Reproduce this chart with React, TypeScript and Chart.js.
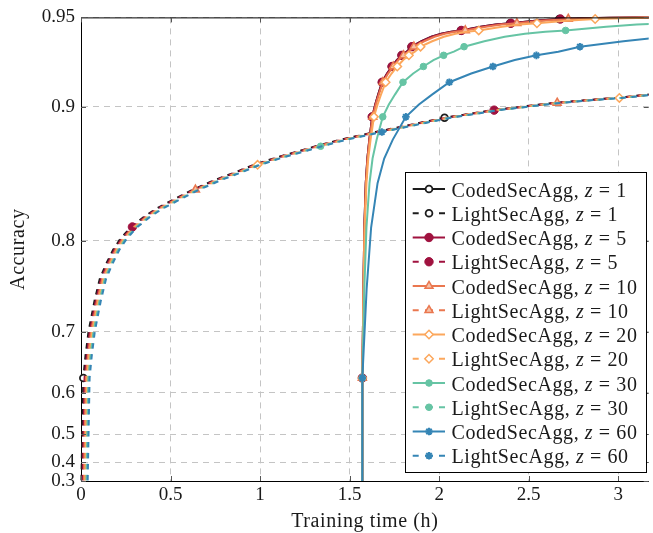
import React, { useEffect, useRef } from "react";
import { Chart, registerables } from "chart.js";
import { drawPoint } from "chart.js/helpers";

Chart.register(...registerables);

// ---------- axis description ----------
// The original y axis is stretched exponentially (accuracy a is placed at exp(k*a)).
const Y_STRETCH = 3.92;
const yMap = (a: number) => Math.exp(Y_STRETCH * a);

const xMin = 0;
const xMax = 3.17;
const xTicks = [0, 0.5, 1, 1.5, 2, 2.5, 3];
const xTickLabels = ["0", "0.5", "1", "1.5", "2", "2.5", "3"];
const yMin = 0.3;
const yMax = 0.95;
const yTickValues = [0.3, 0.4, 0.5, 0.6, 0.7, 0.8, 0.9, 0.95];
const yTickLabels = ["0.3", "0.4", "0.5", "0.6", "0.7", "0.8", "0.9", "0.95"];
const xTitle = "Training time (h)";
const yTitle = "Accuracy";

const schemes = ["CodedSecAgg", "LightSecAgg"];
const zLabels = ["1", "5", "10", "20", "30", "60"];

// ---------- CodedSecAgg (same accuracy levels, different time per round) ----------
const codedAcc = [
  0.1, 0.628, 0.752, 0.812, 0.848, 0.866, 0.879, 0.8938, 0.9015, 0.9075, 0.9148,
  0.9198, 0.9238, 0.9274, 0.93, 0.932, 0.9347, 0.9376, 0.94, 0.9416, 0.9426, 0.9433,
  0.9452, 0.9464, 0.947, 0.9483, 0.9492, 0.9496, 0.9498, 0.9499, 0.95,
];
const codedTimeZ1 = [
  1.571, 1.571, 1.577, 1.582, 1.59, 1.599, 1.61, 1.626, 1.643, 1.659, 1.681, 1.709,
  1.736, 1.764, 1.791, 1.819, 1.846, 1.901, 1.956, 2.011, 2.066, 2.121, 2.231, 2.314,
  2.396, 2.534, 2.671, 2.809, 2.946, 3.084, 3.221,
];
const codedTimeZ5 = [
  1.571, 1.571, 1.577, 1.582, 1.59, 1.599, 1.61, 1.626, 1.643, 1.66, 1.682, 1.709,
  1.737, 1.765, 1.792, 1.82, 1.848, 1.903, 1.958, 2.013, 2.069, 2.124, 2.235, 2.318,
  2.401, 2.539, 2.677, 2.815, 2.954, 3.092, 3.23,
];
const codedTimeZ10 = [
  1.571, 1.571, 1.577, 1.583, 1.591, 1.6, 1.611, 1.629, 1.646, 1.663, 1.686, 1.715,
  1.744, 1.772, 1.801, 1.83, 1.859, 1.916, 1.974, 2.031, 2.089, 2.146, 2.261, 2.347,
  2.434, 2.577, 2.721, 2.865, 3.009, 3.152, 3.296,
];
const codedTimeZ20 = [
  1.571, 1.571, 1.578, 1.584, 1.594, 1.604, 1.617, 1.636, 1.656, 1.675, 1.701, 1.734,
  1.766, 1.799, 1.831, 1.864, 1.896, 1.961, 2.026, 2.091, 2.156, 2.221, 2.351, 2.449,
  2.546, 2.709, 2.871, 3.034, 3.196,
];
const codedTimeZ30 = [
  1.571, 1.571, 1.582, 1.594, 1.611, 1.628, 1.651, 1.685, 1.719, 1.753, 1.798, 1.855,
  1.912, 1.968, 2.025, 2.082, 2.139, 2.252, 2.366, 2.479, 2.593, 2.706, 2.933, 3.103,
  3.274,
];
const codedTimeZ60 = [
  1.571, 1.571, 1.595, 1.62, 1.656, 1.693, 1.741, 1.814, 1.887, 1.96, 2.057, 2.179,
  2.3, 2.422, 2.543, 2.665, 2.786, 3.029, 3.272,
];
const codedMarkIdx = [1, 7, 10, 12, 14, 16, 21, 24, 26];

// ---------- LightSecAgg ----------
const lightTime = [
  0.0, 0.013, 0.025, 0.042, 0.075, 0.105, 0.14, 0.18, 0.22, 0.28, 0.35, 0.42, 0.5,
  0.625, 0.75, 0.85, 0.965, 1.1, 1.2, 1.31, 1.45, 1.645, 1.85, 2.03, 2.3, 2.45,
  2.645, 2.8, 2.985, 3.2,
];
const lightAcc = [
  0.1, 0.628, 0.665, 0.7, 0.738, 0.763, 0.778, 0.792, 0.802, 0.8125, 0.821, 0.828,
  0.834, 0.843, 0.8505, 0.8555, 0.8615, 0.867, 0.8705, 0.8745, 0.879, 0.884, 0.889,
  0.8932, 0.898, 0.9, 0.9025, 0.904, 0.9055, 0.9078,
];
// small start delay of each LightSecAgg run (hours), z = 1, 5, 10, 20, 30, 60
const lightLag = [0, 0.007, 0.014, 0.021, 0.028, 0.035];
const lightMarkIdx = [[1, 23], [9, 24], [13, 26], [16, 28], [19], [21]];

const codedTimes = [codedTimeZ1, codedTimeZ5, codedTimeZ10, codedTimeZ20, codedTimeZ30, codedTimeZ60];

// ---------- styles ----------
const styles = [
  { color: "#1c1c1c", point: "circle", r: 3.4, fill: "#ffffff", bw: 1.8 },
  { color: "#a0123f", point: "circle", r: 4.2, fill: "#a0123f", bw: 1 },
  { color: "#ea774f", point: "triangle", r: 4.6, fill: "#f6c2a8", bw: 1.5 },
  { color: "#fca75c", point: "rectRot", r: 4.2, fill: "#ffffff", bw: 1.5 },
  { color: "#66c4a4", point: "circle", r: 3.3, fill: "#66c4a4", bw: 1 },
  { color: "#3585b5", point: "star", r: 3.8, fill: "#3585b5", bw: 2 },
];
const DASH = [5.5, 5.5];
const FONT = '"Liberation Serif", "Times New Roman", serif';

function buildDatasets() {
  const out: any[] = [];
  const total = zLabels.length * 2;
  zLabels.forEach((z, k) => {
    const st = styles[k];
    const coded = codedTimes[k].map((t, i) => ({ x: t, y: yMap(codedAcc[i]) }));
    const light = lightTime.map((t, i) => ({ x: t + lightLag[k], y: yMap(lightAcc[i]) }));
    const mk = (marks: number[]) => (ctx: any) => (marks.includes(ctx.dataIndex) ? st.r : 0);
    [
      { data: coded, dashed: false, marks: codedMarkIdx, scheme: schemes[0] },
      { data: light, dashed: true, marks: lightMarkIdx[k], scheme: schemes[1] },
    ].forEach((d) => {
      const idx = out.length;
      out.push({
        label: `${d.scheme}, z = ${z}`,
        scheme: d.scheme,
        zText: z,
        data: d.data,
        borderColor: st.color,
        borderWidth: 2,
        borderDash: d.dashed ? DASH : [],
        tension: 0,
        fill: false,
        pointStyle: st.point,
        pointRadius: mk(d.marks),
        pointHoverRadius: 0,
        pointHitRadius: 0,
        pointBackgroundColor: st.fill,
        pointBorderColor: st.color,
        pointBorderWidth: st.bw,
        clip: { left: 6, top: 6, right: 0, bottom: 0 },
        order: total - idx,
        _style: st,
        _dashed: d.dashed,
      });
    });
  });
  return out;
}

const framePlugin = {
  id: "pgfFrame",
  afterDatasetsDraw(chart: any) {
    const { ctx, chartArea: a, scales } = chart;
    ctx.save();
    ctx.strokeStyle = "#000";
    ctx.lineWidth = 1;
    ctx.beginPath();
    ctx.moveTo(a.left, a.top + 0.5);
    ctx.lineTo(a.right, a.top + 0.5);
    ctx.stroke();
    ctx.strokeStyle = "#555";
    ctx.beginPath();
    xTicks.forEach((v) => {
      const x = Math.round(scales.x.getPixelForValue(v)) + 0.5;
      ctx.moveTo(x, a.bottom);
      ctx.lineTo(x, a.bottom - 5);
      ctx.moveTo(x, a.top);
      ctx.lineTo(x, a.top + 5);
    });
    yTickValues.forEach((v) => {
      const y = Math.round(scales.y.getPixelForValue(yMap(v))) + 0.5;
      ctx.moveTo(a.left, y);
      ctx.lineTo(a.left + 5, y);
      ctx.moveTo(a.right, y);
      ctx.lineTo(a.right - 5, y);
    });
    ctx.stroke();
    ctx.restore();
  },
  afterDraw(chart: any) {
    const { ctx, chartArea: a } = chart;
    ctx.save();
    ctx.fillStyle = "#1a1a1a";
    ctx.font = `20px ${FONT}`;
    (ctx as any).letterSpacing = "0.6px";
    ctx.textAlign = "center";
    ctx.textBaseline = "alphabetic";
    ctx.fillText(xTitle, (a.left + a.right) / 2, 527);
    ctx.save();
    ctx.translate(24, (a.top + a.bottom) / 2);
    ctx.rotate(-Math.PI / 2);
    ctx.fillText(yTitle, 0, 0);
    ctx.restore();

    // legend
    const L = 405.5, T = 172.5, R = 646.5, B = 472.5;
    ctx.fillStyle = "#ffffff";
    ctx.fillRect(L, T, R - L, B - T);
    ctx.strokeStyle = "#000";
    ctx.lineWidth = 1;
    ctx.strokeRect(L, T, R - L, B - T);
    const dsets = chart.data.datasets;
    ctx.textAlign = "left";
    dsets.forEach((ds: any, i: number) => {
      const y = 189 + 24.25 * i;
      const st = ds._style;
      ctx.save();
      ctx.strokeStyle = st.color;
      ctx.lineWidth = 2;
      ctx.setLineDash([]);
      ctx.beginPath();
      if (ds._dashed) {
        ctx.moveTo(412.7, y);
        ctx.lineTo(418.7, y);
        ctx.moveTo(425, y);
        ctx.lineTo(433, y);
        ctx.moveTo(439, y);
        ctx.lineTo(445, y);
      } else {
        ctx.moveTo(412.7, y);
        ctx.lineTo(445, y);
      }
      ctx.stroke();
      ctx.fillStyle = st.fill;
      ctx.strokeStyle = st.color;
      ctx.lineWidth = st.bw;
      drawPoint(ctx, { pointStyle: st.point, radius: st.r, rotation: 0, borderWidth: st.bw } as any, 429, y);
      ctx.restore();

      const base = y + 7.5;
      let x = 451.5;
      ctx.fillStyle = "#1a1a1a";
      ctx.font = `20px ${FONT}`;
      const p1 = `${ds.scheme}, `;
      ctx.fillText(p1, x, base);
      x += ctx.measureText(p1).width;
      ctx.font = `italic 20px ${FONT}`;
      ctx.fillText("z", x, base);
      x += ctx.measureText("z").width;
      ctx.font = `20px ${FONT}`;
      ctx.fillText(` = ${ds.zText}`, x, base);
    });
    ctx.restore();
  },
};

export default function App() {
  const ref = useRef<HTMLCanvasElement>(null);
  useEffect(() => {
    if (!ref.current) return;
    const tickFont = { family: FONT, size: 19 };
    const chart = new Chart(ref.current, {
      type: "line",
      data: { datasets: buildDatasets() },
      options: {
        responsive: false,
        devicePixelRatio: 1,
        animation: false,
        events: [],
        layout: { padding: { top: 15, left: 0, right: 0, bottom: 0 } },
        plugins: { legend: { display: false }, tooltip: { enabled: false } },
        scales: {
          x: {
            type: "linear",
            min: xMin,
            max: xMax,
            afterBuildTicks: (s: any) => {
              s.ticks = xTicks.map((v) => ({ value: v }));
            },
            afterFit: (s: any) => {
              s.height = 52;
            },
            ticks: {
              font: tickFont,
              color: "#1a1a1a",
              padding: 3,
              maxRotation: 0,
              autoSkip: false,
              callback: (_v: any, i: number) => xTickLabels[i],
            },
            grid: { color: "#c4c4c4", lineWidth: 1, drawTicks: false },
            border: { display: true, color: "#000", width: 1, dash: [6, 5] },
          },
          y: {
            type: "linear",
            min: yMap(yMin),
            max: yMap(yMax),
            afterBuildTicks: (s: any) => {
              s.ticks = yTickValues.map((v) => ({ value: yMap(v) }));
            },
            afterFit: (s: any) => {
              s.width = 81;
            },
            ticks: {
              font: tickFont,
              color: "#1a1a1a",
              padding: 6,
              autoSkip: false,
              callback: (_v: any, i: number) => yTickLabels[i],
            },
            grid: { color: "#c4c4c4", lineWidth: 1, drawTicks: false },
            border: { display: true, color: "#000", width: 1, dash: [6, 5] },
          },
        },
      } as any,
      plugins: [framePlugin],
    });
    return () => chart.destroy();
  }, []);
  return (
    <div style={{ position: "fixed", left: 0, top: 0, width: 653, height: 533, background: "#fff" }}>
      <canvas ref={ref} width={653} height={533} style={{ display: "block", width: 653, height: 533 }} />
    </div>
  );
}
